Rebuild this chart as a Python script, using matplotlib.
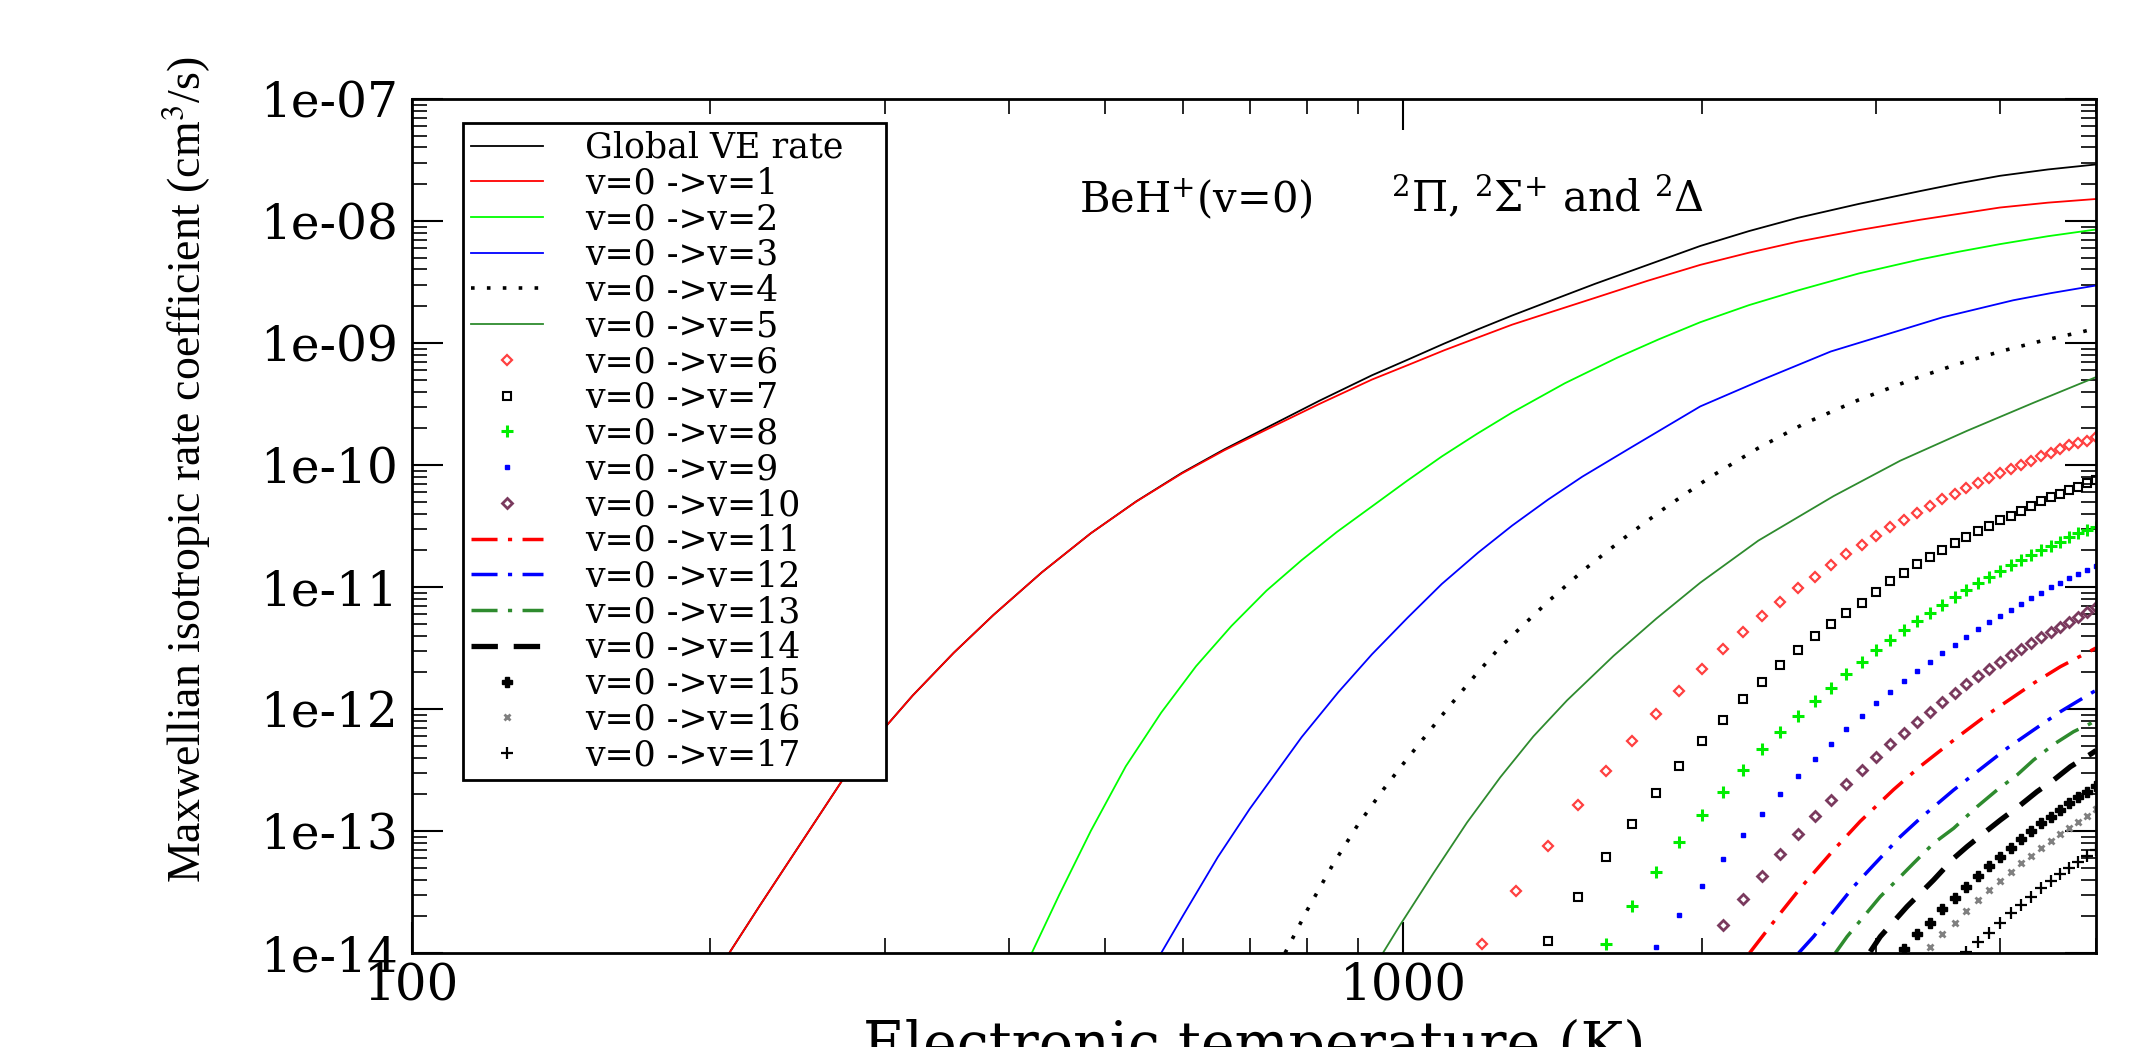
import matplotlib.pyplot as plt
import numpy as np
from matplotlib.ticker import FixedLocator, LogLocator, NullFormatter, FuncFormatter

plt.rcParams['font.family'] = ['DejaVu Serif']
plt.rcParams['mathtext.fontset'] = 'dejavuserif'

# --- continuous curves: temperature (K) and log10 of the rate coefficient (cm^3/s) ---
T_global = [209, 224, 240, 256, 272, 295, 320, 352, 386, 432, 484, 538, 598, 660, 728, 823, 930, 1012,
            1100, 1190, 1288, 1418, 1562, 1765, 1994, 2233, 2500, 2883, 3324, 3647, 4000, 4472, 5000]
lk_global = [-14.00, -13.62, -13.25, -12.905, -12.58, -12.22, -11.89, -11.54, -11.23, -10.88, -10.56,
             -10.298, -10.065, -9.872, -9.695, -9.474, -9.265, -9.135, -9.005, -8.888, -8.775, -8.645,
             -8.515, -8.36, -8.205, -8.083, -7.975, -7.86, -7.755, -7.689, -7.63, -7.578, -7.537]

T_v1 = [209, 224, 240, 256, 272, 295, 320, 352, 386, 432, 484, 538, 598, 660, 728, 823, 930, 1012,
        1100, 1190, 1288, 1418, 1562, 1765, 1994, 2233, 2500, 2883, 3324, 3647, 4000, 4472, 5000]
lk_v1 = [-14.00, -13.62, -13.25, -12.905, -12.58, -12.22, -11.89, -11.54, -11.23, -10.88, -10.56,
         -10.30, -10.07, -9.88, -9.71, -9.50, -9.30, -9.18, -9.06, -8.955, -8.85, -8.74, -8.63,
         -8.49, -8.36, -8.26, -8.17, -8.075, -7.99, -7.94, -7.89, -7.85, -7.82]

T_v2 = [422, 450, 484, 525, 570, 618, 671, 728, 790, 857, 930, 1009, 1094, 1187, 1288, 1456, 1645,
        1811, 1994, 2233, 2500, 2883, 3324, 3647, 4000, 4472, 5000]
lk_v2 = [-14.00, -13.52, -13.00, -12.47, -12.03, -11.65, -11.32, -11.03, -10.78, -10.55, -10.34,
         -10.13, -9.93, -9.745, -9.57, -9.33, -9.12, -8.97, -8.83, -8.69, -8.57, -8.43, -8.315,
         -8.25, -8.19, -8.125, -8.07]

T_v3 = [570, 600, 650, 700, 790, 860, 930, 1010, 1094, 1190, 1288, 1400, 1516, 1700, 1994, 2300,
        2700, 3100, 3500, 4126, 4500, 5000]
lk_v3 = [-14.00, -13.69, -13.215, -12.82, -12.23, -11.863, -11.552, -11.253, -10.975, -10.719,
         -10.497, -10.284, -10.096, -9.854, -9.52, -9.303, -9.07, -8.921, -8.79, -8.65, -8.592, -8.529]

T_v4 = [760, 800, 850, 900, 955, 1000, 1100, 1170, 1250, 1400, 1520, 1670, 1840, 2040, 2280, 2540,
        2880, 3260, 3620, 4010, 4420, 4850, 5000]
lk_v4 = [-14.00, -13.65, -13.27, -12.95, -12.66, -12.45, -12.03, -11.767, -11.50, -11.12, -10.863,
         -10.60, -10.348, -10.10, -9.863, -9.66, -9.467, -9.30, -9.175, -9.068, -8.98, -8.907, -8.88]

T_v5 = [954, 993, 1073, 1160, 1253, 1353, 1463, 1630, 1800, 1994, 2282, 2718, 3173, 3706, 4325, 5000]
lk_v5 = [-14.00, -13.77, -13.345, -12.93, -12.56, -12.225, -11.93, -11.565, -11.26, -10.965, -10.62,
         -10.255, -9.965, -9.72, -9.49, -9.28]

T_v11 = [2236, 2401, 2515, 2718, 2892, 3125, 3324, 3648, 3881, 4325, 4603, 5000]
lk_v11 = [-14.00, -13.675, -13.47, -13.156, -12.92, -12.66, -12.47, -12.213, -12.049, -11.789, -11.653, -11.50]

T_v12 = [2506, 2594, 2847, 2983, 3173, 3324, 3592, 3793, 4067, 4325, 4603, 4784, 4973, 5000]
lk_v12 = [-14.00, -13.866, -13.456, -13.279, -13.047, -12.896, -12.664, -12.514, -12.322, -12.172,
          -12.022, -11.94, -11.858, -11.85]

T_v13 = [2729, 2804, 3029, 3173, 3272, 3428, 3592, 3793, 3973, 4162, 4325, 4532, 4746, 4934, 5000]
lk_v13 = [-14.00, -13.866, -13.538, -13.375, -13.265, -13.101, -12.978, -12.801, -12.664, -12.541,
          -12.418, -12.29, -12.186, -12.12, -12.09]

T_v14 = [2959, 3029, 3223, 3428, 3592, 3706, 3851, 4004, 4195, 4359, 4532, 4711, 4954, 5000]
lk_v14 = [-13.99, -13.866, -13.62, -13.402, -13.224, -13.128, -13.019, -12.91, -12.787, -12.678,
          -12.582, -12.473, -12.363, -12.34]

# --- transitions sampled every 100 K (drawn with markers) ---
T_grid = [1200, 1300, 1400, 1500, 1600, 1700, 1800, 1900, 2000, 2100,
          2200, 2300, 2400, 2500, 2600, 2700, 2800, 2900, 3000, 3100,
          3200, 3300, 3400, 3500, 3600, 3700, 3800, 3900, 4000, 4100,
          4200, 4300, 4400, 4500, 4600, 4700, 4800, 4900, 5000]

lk_v6 = [-13.93, -13.49, -13.12, -12.79, -12.51, -12.26, -12.04, -11.85, -11.67, -11.51,
         -11.37, -11.24, -11.12, -11.01, -10.92, -10.82, -10.73, -10.66, -10.58, -10.51,
         -10.45, -10.39, -10.34, -10.28, -10.24, -10.19, -10.15, -10.11, -10.07, -10.03,
         -10.00, -9.97, -9.93, -9.90, -9.87, -9.84, -9.82, -9.80, -9.77]
lk_v7 = [-13.90, -13.54, -13.21, -12.94, -12.69, -12.47, -12.26, -12.09, -11.92, -11.78,
         -11.64, -11.52, -11.40, -11.30, -11.21, -11.13, -11.04, -10.95, -10.885, -10.815,
         -10.755, -10.697, -10.642, -10.593, -10.541, -10.497, -10.453, -10.415, -10.377, -10.334,
         -10.298, -10.262, -10.236, -10.209, -10.180, -10.150, -10.123]
lk_v8 = [-13.93, -13.615, -13.34, -13.09, -12.87, -12.68, -12.50, -12.33, -12.19, -12.055,
         -11.935, -11.825, -11.715, -11.612, -11.518, -11.434, -11.352, -11.276, -11.211, -11.145,
         -11.080, -11.025, -10.970, -10.916, -10.869, -10.817, -10.777, -10.738, -10.697, -10.661,
         -10.629, -10.593, -10.560, -10.533, -10.506]
lk_v9 = [-13.95, -13.69, -13.447, -13.232, -13.033, -12.860, -12.697, -12.547, -12.407, -12.287,
         -12.166, -12.055, -11.953, -11.861, -11.768, -11.689, -11.613, -11.540, -11.475, -11.407,
         -11.347, -11.289, -11.238, -11.189, -11.138, -11.093, -11.047, -11.004, -10.965, -10.929,
         -10.896, -10.861, -10.828]
lk_v10 = [-13.77, -13.555, -13.366, -13.189, -13.027, -12.877, -12.748, -12.617, -12.500, -12.391,
          -12.289, -12.194, -12.107, -12.022, -11.945, -11.866, -11.798, -11.732, -11.672, -11.612,
          -11.557, -11.511, -11.462, -11.409, -11.366, -11.325, -11.284, -11.245, -11.204, -11.161]
lk_v15 = [-13.967, -13.844, -13.752, -13.642, -13.552, -13.456, -13.369, -13.287, -13.211, -13.137,
          -13.068, -13.000, -12.937, -12.883, -12.828, -12.773, -12.724, -12.678, -12.629]
lk_v16 = [-13.948, -13.847, -13.751, -13.656, -13.566, -13.484, -13.407, -13.334, -13.265, -13.202,
          -13.142, -13.082, -13.027, -12.973, -12.924, -12.874, -12.822]
lk_v17 = [-13.99, -13.907, -13.833, -13.752, -13.675, -13.607, -13.543, -13.470, -13.410, -13.352,
          -13.306, -13.252, -13.202, -13.156]


def rate(lk):
    return 10.0 ** np.asarray(lk)


fig = plt.figure(figsize=(21.5, 10.47), dpi=100)
ax = fig.add_axes([0.1916, 0.0898, 0.7833, 0.8157])

dgreen = '#2e8b2e'
dashdot = (0, (7.5, 3, 1.2, 3))

ax.plot(T_global, rate(lk_global), color='black', lw=1.3, label='Global VE rate')
ax.plot(T_v1, rate(lk_v1), color='red', lw=1.3, label='v=0 ->v=1')
ax.plot(T_v2, rate(lk_v2), color='#00ff00', lw=1.3, label='v=0 ->v=2')
ax.plot(T_v3, rate(lk_v3), color='blue', lw=1.3, label='v=0 ->v=3')
ax.plot(T_v4, rate(lk_v4), color='black', lw=2.6, ls=(0, (1.0, 3.4)), label='v=0 ->v=4')
ax.plot(T_v5, rate(lk_v5), color=dgreen, lw=1.3, label='v=0 ->v=5')

ax.plot(T_grid, rate(lk_v6), ls='none', marker='D', ms=5.5, mfc='none', mec='#ff4040', mew=1.6,
        label='v=0 ->v=6')
ax.plot(T_grid[2:], rate(lk_v7), ls='none', marker='s', ms=6, mfc='none', mec='black', mew=1.5,
        label='v=0 ->v=7')
ax.plot(T_grid[4:], rate(lk_v8), ls='none', marker='+', ms=9, mec='#00ee00', mew=2.2,
        label='v=0 ->v=8')
ax.plot(T_grid[6:], rate(lk_v9), ls='none', marker='s', ms=3.5, mfc='blue', mec='blue',
        label='v=0 ->v=9')
ax.plot(T_grid[9:], rate(lk_v10), ls='none', marker='D', ms=5.5, mfc='none', mec='#7a3a5e', mew=2.0,
        label='v=0 ->v=10')

ax.plot(T_v11, rate(lk_v11), color='red', lw=2.5, ls=dashdot, label='v=0 ->v=11')
ax.plot(T_v12, rate(lk_v12), color='blue', lw=2.5, ls=dashdot, label='v=0 ->v=12')
ax.plot(T_v13, rate(lk_v13), color=dgreen, lw=2.5, ls=dashdot, label='v=0 ->v=13')
ax.plot(T_v14, rate(lk_v14), color='black', lw=3.8, ls=(0, (5, 3)), label='v=0 ->v=14')

ax.plot(T_grid[20:], rate(lk_v15), ls='none', marker='P', ms=7, mfc='black', mec='black',
        label='v=0 ->v=15')
ax.plot(T_grid[22:], rate(lk_v16), ls='none', marker='x', ms=5, mec='#808080', mew=2.0,
        label='v=0 ->v=16')
ax.plot(T_grid[25:], rate(lk_v17), ls='none', marker='+', ms=8, mec='black', mew=1.6,
        label='v=0 ->v=17')

ax.set_xscale('log')
ax.set_yscale('log')
ax.set_xlim(100, 5000)
ax.set_ylim(1e-14, 1e-7)

ax.xaxis.set_major_locator(FixedLocator([100, 1000]))
ax.xaxis.set_major_formatter(FuncFormatter(lambda v, p: f'{v:.0f}'))
ax.xaxis.set_minor_locator(LogLocator(base=10, subs=np.arange(2, 10)))
ax.xaxis.set_minor_formatter(NullFormatter())
ax.yaxis.set_major_locator(FixedLocator([10.0 ** e for e in range(-14, -6)]))
ax.yaxis.set_major_formatter(FuncFormatter(lambda v, p: f'{v:.0e}'))
ax.yaxis.set_minor_locator(LogLocator(base=10, subs=np.arange(2, 10), numticks=20))
ax.yaxis.set_minor_formatter(NullFormatter())

ax.tick_params(which='both', direction='in', top=True, right=True, colors='black')
ax.tick_params(which='major', length=22, width=1.5)
ax.tick_params(which='minor', length=11, width=1.2)
ax.tick_params(axis='y', which='major', labelsize=35, pad=10)
ax.tick_params(axis='x', which='major', labelsize=36, pad=6)
for sp in ax.spines.values():
    sp.set_linewidth(2.0)

ax.set_xlabel('Electronic temperature (K)', fontsize=41)
ax.xaxis.set_label_coords(0.5, -0.077)
ax.set_ylabel('Maxwellian isotropic rate coefficient (cm$^3$/s)', fontsize=33,
              family='Liberation Serif', math_fontfamily='stix')
ax.yaxis.set_label_coords(-0.118, 0.566)

ax.text(0.396, 0.8677, 'BeH$^{+}$(v=0)', transform=ax.transAxes, fontsize=30, va='baseline')
ax.text(0.5814, 0.8677, r'$^{2}\Pi$, $^{2}\Sigma^{+}$ and $^{2}\Delta$', transform=ax.transAxes,
        fontsize=30, va='baseline')

# legend box stretched to the frame width used on the figure
leg = ax.legend(loc='upper left', bbox_to_anchor=(0.2153, 0.5, 0.1967, 0.3825),
                bbox_transform=fig.transFigure, mode='expand',
                fontsize=25, labelspacing=0.05, borderpad=0.22, handlelength=2.1,
                handletextpad=1.2, borderaxespad=0, fancybox=False, framealpha=1,
                edgecolor='black', numpoints=1)
leg.get_frame().set_linewidth(2.0)

fig.savefig('out.png', dpi=100)
